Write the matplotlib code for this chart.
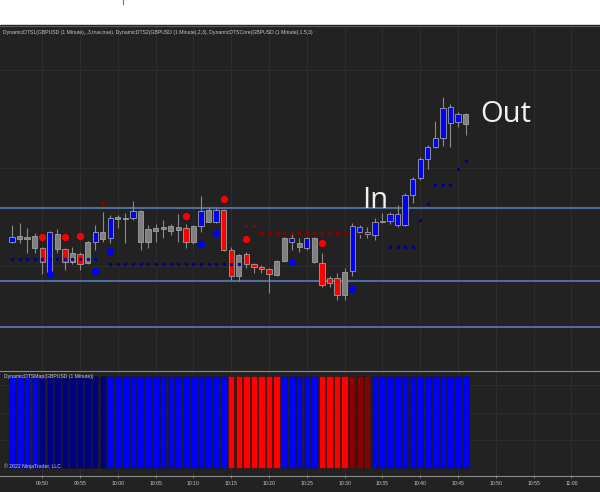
import matplotlib
matplotlib.use("Agg")
import matplotlib.pyplot as plt
from matplotlib.patches import Rectangle
from matplotlib.lines import Line2D

# 1-minute GBPUSD bars, 09:46 .. 10:46
start_time = "09:46"
opens = [1.35258, 1.35261, 1.35263, 1.35264, 1.35252, 1.35228, 1.35251, 1.35251, 1.35238, 1.35246,
         1.35237, 1.35258, 1.35261, 1.35262, 1.35281, 1.35282, 1.35282, 1.35289, 1.35258, 1.35269,
         1.35271, 1.35274, 1.35270, 1.35272, 1.35258, 1.35274, 1.35278, 1.35278, 1.35290, 1.35250,
         1.35224, 1.35246, 1.35236, 1.35233, 1.35231, 1.35225, 1.35239, 1.35258, 1.35257, 1.35252,
         1.35262, 1.35237, 1.35222, 1.35222, 1.35205, 1.35229, 1.35268, 1.35266, 1.35265, 1.35278,
         1.35279, 1.35275, 1.35275, 1.35305, 1.35322, 1.35341, 1.35353, 1.35362, 1.35377, 1.35378,
         1.35386]
highs = [1.35275, 1.35277, 1.35272, 1.35267, 1.35253, 1.35269, 1.35271, 1.35252, 1.35253, 1.35248,
         1.35259, 1.35275, 1.35288, 1.35285, 1.35285, 1.35287, 1.35299, 1.35290, 1.35275, 1.35276,
         1.35280, 1.35276, 1.35286, 1.35276, 1.35275, 1.35304, 1.35293, 1.35292, 1.35291, 1.35253,
         1.35246, 1.35248, 1.35237, 1.35235, 1.35232, 1.35240, 1.35263, 1.35268, 1.35262, 1.35263,
         1.35263, 1.35247, 1.35224, 1.35227, 1.35232, 1.35277, 1.35275, 1.35273, 1.35282, 1.35287,
         1.35288, 1.35295, 1.35307, 1.35323, 1.35343, 1.35355, 1.35379, 1.35403, 1.35396, 1.35388,
         1.35387]
lows = [1.35257, 1.35257, 1.35247, 1.35247, 1.35226, 1.35227, 1.35247, 1.35230, 1.35236, 1.35230,
        1.35236, 1.35250, 1.35258, 1.35257, 1.35272, 1.35257, 1.35280, 1.35250, 1.35252, 1.35258,
        1.35262, 1.35265, 1.35258, 1.35252, 1.35256, 1.35268, 1.35278, 1.35277, 1.35249, 1.35220,
        1.35219, 1.35232, 1.35227, 1.35227, 1.35207, 1.35224, 1.35238, 1.35250, 1.35248, 1.35250,
        1.35237, 1.35213, 1.35213, 1.35200, 1.35200, 1.35224, 1.35262, 1.35262, 1.35260, 1.35277,
        1.35276, 1.35273, 1.35274, 1.35297, 1.35320, 1.35331, 1.35352, 1.35354, 1.35353, 1.35373,
        1.35365]
closes = [1.35263, 1.35264, 1.35261, 1.35252, 1.35238, 1.35268, 1.35266, 1.35238, 1.35247, 1.35236,
          1.35258, 1.35268, 1.35268, 1.35282, 1.35283, 1.35281, 1.35289, 1.35258, 1.35271, 1.35272,
          1.35273, 1.35269, 1.35273, 1.35258, 1.35274, 1.35289, 1.35290, 1.35290, 1.35250, 1.35224,
          1.35245, 1.35236, 1.35233, 1.35231, 1.35226, 1.35239, 1.35262, 1.35262, 1.35253, 1.35262,
          1.35238, 1.35215, 1.35217, 1.35205, 1.35228, 1.35274, 1.35273, 1.35268, 1.35278, 1.35279,
          1.35286, 1.35286, 1.35305, 1.35321, 1.35341, 1.35353, 1.35362, 1.35392, 1.35393, 1.35386,
          1.35376]
# b = up painted, r = down painted, g = neutral
candle_codes = "bgggrbgrgrgbgbggbggggg" + "grgbgbrrgrrrrggbgbgrrrg" + "bbbbbbbbbbbbbbbg"

# DTS map colours per bar (b blue, n navy, r red, d dark red)
map_codes = "bbbb" + "nnnnnnnnn" + "bbbbbbbbbbbbbbbb" + "rrrrrrr" + "bbbbb" + "rrrr" + "ddd" + "bbbbbbbbbbbbb"

# signal dots
red_dot_bars = [4, 7, 9, 23, 28, 31, 41]
red_dot_prices = [1.35263, 1.35263, 1.35264, 1.35284, 1.35301, 1.35261, 1.35257]
blue_dot_bars = [5, 11, 13, 25, 27, 37, 45]
blue_dot_prices = [1.35226, 1.35229, 1.35249, 1.35256, 1.35267, 1.35238, 1.35211]

# trailing stops
navy_stop_bars = [0, 1, 2, 3, 4, 5, 6, 7, 8, 9, 10, 11,
                  13, 14, 15, 16, 17, 18, 19, 20, 21, 22, 23, 24, 25, 26, 27, 28, 29, 30,
                  50, 51, 52, 53, 54, 55, 56, 57, 58, 59, 60]
navy_stop_prices = [1.35241] * 12 + [1.35236] * 18 + \
                   [1.35253, 1.35253, 1.35253, 1.35253, 1.35280, 1.35296, 1.35315, 1.35315, 1.35315, 1.35331, 1.35339]
red_stop_bars = [12, 31, 32, 33, 34, 35, 36, 37, 38, 39, 40, 41, 42, 43, 44, 45, 46, 47, 48]
red_stop_prices = [1.35297, 1.35274, 1.35274] + [1.35267] * 16

levels = [1.35292, 1.35219, 1.35173]

time_labels = ["09:50", "09:55", "10:00", "10:05", "10:10", "10:15", "10:20",
               "10:25", "10:30", "10:35", "10:40", "10:45", "10:50", "10:55", "11:00"]

header = ("DynamicDTS1(GBPUSD (1 Minute),,,3,true,true), DynamicDTS2(GBPUSD (1 Minute),2,3), "
          "DynamicDTSCore(GBPUSD (1 Minute),1.5,3)")

BG = "#222222"
GRID = "#2d2d2d"
candle_fill = {"b": "#0000ff", "r": "#ff0000", "g": "#7f7f7f"}
map_fill = {"b": "#0000ff", "n": "#000086", "r": "#ff0000", "d": "#8b0000"}


def minutes(t):
    h, m = t.split(":")
    return int(h) * 60 + int(m)


t0 = minutes(start_time)
tick_pos = [minutes(t) - t0 for t in time_labels]
bars = list(range(len(opens)))

H = 492.0


def fy(px):
    return 1 - px / H


fig = plt.figure(figsize=(6, 4.92), dpi=100, facecolor="white")
fig.patches.append(Rectangle((0, 0), 1, fy(25), transform=fig.transFigure, color=BG, zorder=-5))

xlim = (-12 / 7.56, (600 - 12) / 7.56)

# price panel
ax = fig.add_axes([0, fy(370), 1, fy(26) - fy(370)])
ax.set_facecolor(BG)
ax.set_xlim(*xlim)
ax.set_ylim(1.35130, 1.35474)
for s in ax.spines.values():
    s.set_visible(False)
ax.set_xticks(tick_pos)
ax.set_yticks([1.35234, 1.35332, 1.35430])
ax.tick_params(length=0, labelbottom=False, labelleft=False)
ax.grid(color=GRID, linewidth=0.8)
ax.set_axisbelow(True)

for lv in levels:
    ax.axhline(lv, color="#4d6d9e", linewidth=1.5, zorder=2)

ax.vlines(bars, lows, highs, color="#8a8a8a", linewidth=0.8, zorder=3)
body_low = [min(o, c) for o, c in zip(opens, closes)]
body_h = [max(abs(c - o), 0.000012) for o, c in zip(opens, closes)]
ax.bar(bars, body_h, bottom=body_low, width=0.7,
       color=[candle_fill[k] for k in candle_codes],
       edgecolor="#a0a0a0", linewidth=0.6, zorder=4)

ax.plot(navy_stop_bars, navy_stop_prices, "s", color="#00008b", markersize=1.3, zorder=5)
ax.plot(red_stop_bars, red_stop_prices, "s", color="#8b0000", markersize=1.3, zorder=3.5)
ax.plot(red_dot_bars, red_dot_prices, "o", color="#ff0000", markersize=4.2, zorder=6)
ax.plot(blue_dot_bars, blue_dot_prices, "o", color="#0000ff", markersize=4.2, zorder=6)

ax.text((362 - 12) / 7.56, 1.35292, "In", color="#f2f2f2", fontsize=21,
        family="Open Sans", va="baseline", ha="left", zorder=7)
ax.text((480 - 12) / 7.56, 1.35378, "Out", color="#f2f2f2", fontsize=21,
        family="Open Sans", va="baseline", ha="left", zorder=7)

ax.text(3 / 600, 1 - 4 / 344, header, transform=ax.transAxes, color="#c8c8c8",
        fontsize=3.7, family="Liberation Sans", va="top", ha="left")

# DTS map panel
ax2 = fig.add_axes([0, fy(475), 1, fy(371) - fy(475)])
ax2.set_facecolor(BG)
ax2.set_xlim(*xlim)
ax2.set_ylim(-7 / 92, 1 + 5 / 92)
for s in ax2.spines.values():
    s.set_visible(False)
ax2.set_xticks(tick_pos)
ax2.set_xticklabels(time_labels)
ax2.set_yticks([0.3, 0.6, 0.9])
ax2.tick_params(axis="y", length=0, labelleft=False)
ax2.tick_params(axis="x", length=2, color="#8c8c8c", width=0.6, pad=2.5,
                labelsize=3.7, labelcolor="#c8c8c8")
for lab in ax2.get_xticklabels():
    lab.set_family("Liberation Sans")
ax2.grid(color=GRID, linewidth=0.8)
ax2.set_axisbelow(True)
ax2.bar(bars, [1] * len(bars), width=0.84, color=[map_fill[k] for k in map_codes],
        edgecolor="#1a1a1a", linewidth=0.4, zorder=3)
ax2.text(4 / 600, 1 - 3 / 104, "DynamicDTSMap(GBPUSD (1 Minute))", transform=ax2.transAxes,
         color="#d0d0d0", fontsize=3.7, family="Liberation Sans", va="top", ha="left", zorder=5)
ax2.text(4 / 600, 6 / 104, "\u00a9 2022 NinjaTrader, LLC", transform=ax2.transAxes,
         color="#d0d0d0", fontsize=3.7, family="Liberation Sans", va="bottom", ha="left", zorder=5)

# panel borders
for py, col in [(25.5, "#5a5a5a"), (370.5, "#8c8c8c"), (475.5, "#8c8c8c")]:
    fig.add_artist(Line2D([0, 1], [fy(py), fy(py)], transform=fig.transFigure, color=col, linewidth=0.8))
fig.add_artist(Line2D([123 / 600, 123 / 600], [fy(0), fy(4)], transform=fig.transFigure,
                      color="#5a6cff", linewidth=0.8))

fig.savefig("out.png", dpi=100, facecolor="white")
